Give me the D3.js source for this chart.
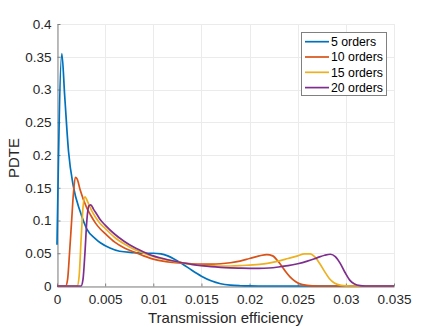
<!DOCTYPE html>
<html>
<head>
<meta charset="utf-8">
<script src="https://cdn.jsdelivr.net/npm/d3@7"></script>
<style>
  body { margin: 0; background: #fff; }
  svg { display: block; font-family: "Liberation Sans", Arial, sans-serif; }
</style>
</head>
<body>
<script>
// data
var xTicks = [0, 0.005, 0.01, 0.015, 0.02, 0.025, 0.03, 0.035];
var yTicks = [0, 0.05, 0.1, 0.15, 0.2, 0.25, 0.3, 0.35, 0.4];
var seriesNames = ['5 orders', '10 orders', '15 orders', '20 orders'];
var seriesColors = ['#0072BD', '#D95319', '#EDB120', '#7E2F8E'];

var x5 = [0, 0.0005, 0.0008, 0.0012, 0.0017, 0.0024, 0.0031, 0.004, 0.0045, 0.0055, 0.0065, 0.008, 0.009, 0.01, 0.0108, 0.0115, 0.0122, 0.013, 0.014, 0.015, 0.016, 0.017, 0.018, 0.019, 0.02, 0.022, 0.035];
var y5 = [0.063, 0.355, 0.29, 0.205, 0.152, 0.114, 0.087, 0.072, 0.066, 0.058, 0.053, 0.051, 0.05, 0.05, 0.049, 0.046, 0.041, 0.034, 0.024, 0.015, 0.008, 0.0035, 0.0013, 0.0004, 0.0001, 0, 0];

var x10 = [0, 0.0009, 0.0011, 0.0013, 0.0015, 0.0017, 0.0019, 0.0021, 0.0024, 0.0031, 0.0035, 0.004, 0.0045, 0.005, 0.006, 0.007, 0.008, 0.009, 0.01, 0.011, 0.012, 0.013, 0.014, 0.015, 0.016, 0.017, 0.018, 0.019, 0.02, 0.021, 0.0218, 0.0224, 0.023, 0.0236, 0.0242, 0.0248, 0.0255, 0.0265, 0.028, 0.035];
var y10 = [0, 0, 0.01, 0.05, 0.095, 0.14, 0.166, 0.163, 0.147, 0.119, 0.108, 0.096, 0.087, 0.08, 0.067, 0.058, 0.052, 0.046, 0.041, 0.038, 0.036, 0.035, 0.034, 0.0335, 0.0335, 0.034, 0.0355, 0.038, 0.042, 0.046, 0.048, 0.046, 0.037, 0.025, 0.014, 0.0065, 0.002, 0.0003, 0, 0];

var x15 = [0, 0.0021, 0.0023, 0.0025, 0.0027, 0.0029, 0.0032, 0.0036, 0.004, 0.0045, 0.005, 0.006, 0.007, 0.008, 0.009, 0.01, 0.011, 0.012, 0.013, 0.014, 0.015, 0.016, 0.017, 0.018, 0.019, 0.02, 0.021, 0.022, 0.023, 0.024, 0.025, 0.0257, 0.0263, 0.0268, 0.0273, 0.0278, 0.0283, 0.0288, 0.0295, 0.0305, 0.035];
var y15 = [0, 0, 0.015, 0.07, 0.12, 0.136, 0.128, 0.115, 0.105, 0.095, 0.088, 0.074, 0.064, 0.056, 0.05, 0.045, 0.041, 0.038, 0.0355, 0.033, 0.0315, 0.031, 0.0305, 0.0305, 0.031, 0.032, 0.033, 0.035, 0.038, 0.042, 0.046, 0.049, 0.049, 0.044, 0.034, 0.022, 0.011, 0.0045, 0.001, 0, 0];

var x20 = [0, 0.0025, 0.0027, 0.0029, 0.0031, 0.0033, 0.0035, 0.0038, 0.0042, 0.0045, 0.005, 0.006, 0.007, 0.008, 0.009, 0.01, 0.011, 0.012, 0.013, 0.014, 0.015, 0.016, 0.017, 0.018, 0.019, 0.02, 0.021, 0.022, 0.023, 0.024, 0.025, 0.026, 0.027, 0.0278, 0.0284, 0.0289, 0.0294, 0.0299, 0.0304, 0.0309, 0.0315, 0.032, 0.035];
var y20 = [0, 0, 0.01, 0.05, 0.1, 0.122, 0.124, 0.117, 0.108, 0.101, 0.093, 0.079, 0.068, 0.059, 0.052, 0.046, 0.042, 0.0385, 0.0355, 0.033, 0.031, 0.0295, 0.0285, 0.0278, 0.0273, 0.027, 0.027, 0.0275, 0.029, 0.031, 0.034, 0.038, 0.043, 0.047, 0.0485, 0.045, 0.035, 0.021, 0.009, 0.003, 0.0005, 0, 0];

var allX = [x5, x10, x15, x20];
var allY = [y5, y10, y15, y20];

var W = 436, H = 327;
var m = {left: 57, right: 394, top: 24, bottom: 286};
var axisColor = '#808080';
var textColor = '#262626';

var svg = d3.select('body').append('svg')
  .attr('width', W)
  .attr('height', H);

var xScale = d3.scaleLinear().domain([0, 0.035]).range([m.left, m.right]);
var yScale = d3.scaleLinear().domain([0, 0.4]).range([m.bottom, m.top]);

// grid
svg.append('g').selectAll('line.gx').data(xTicks).enter().append('line')
  .attr('x1', function(d) { return Math.round(xScale(d)) + 0.5; })
  .attr('x2', function(d) { return Math.round(xScale(d)) + 0.5; })
  .attr('y1', m.top).attr('y2', m.bottom)
  .attr('stroke', '#ebebeb').attr('stroke-width', 1);
svg.append('g').selectAll('line.gy').data(yTicks).enter().append('line')
  .attr('y1', function(d) { return Math.round(yScale(d)) + 0.5; })
  .attr('y2', function(d) { return Math.round(yScale(d)) + 0.5; })
  .attr('x1', m.left).attr('x2', m.right)
  .attr('stroke', '#ebebeb').attr('stroke-width', 1);

// axes (ticks inside, like matlab)
var fmt = function(d) { return d === 0 ? '0' : String(+d.toFixed(3)); };

var xAxis = svg.append('g')
  .attr('transform', 'translate(0,' + (m.bottom + 0.5) + ')')
  .call(d3.axisBottom(xScale).tickValues(xTicks).tickFormat(fmt).tickSizeInner(-3).tickSizeOuter(0).tickPadding(8));
var yAxis = svg.append('g')
  .attr('transform', 'translate(' + (m.left + 0.5) + ',0)')
  .call(d3.axisLeft(yScale).tickValues(yTicks).tickFormat(fmt).tickSizeInner(-3).tickSizeOuter(0).tickPadding(6));

[xAxis, yAxis].forEach(function(a) {
  a.select('.domain').attr('stroke', axisColor);
  a.selectAll('.tick line').attr('stroke', axisColor);
  a.selectAll('.tick text').attr('fill', textColor)
    .style('font-size', '13.5px')
    .style('font-family', '"Liberation Sans", Arial, sans-serif');
});

svg.append('text')
  .attr('x', (m.left + m.right) / 2)
  .attr('y', 323)
  .attr('text-anchor', 'middle')
  .attr('fill', textColor)
  .style('font-size', '15px')
  .text('Transmission efficiency');

svg.append('text')
  .attr('transform', 'translate(19,' + ((m.top + m.bottom) / 2 + 3) + ') rotate(-90)')
  .attr('text-anchor', 'middle')
  .attr('fill', textColor)
  .style('font-size', '15px')
  .text('PDTE');

// curves
var line = d3.line()
  .x(function(d) { return xScale(d[0]); })
  .y(function(d) { return yScale(d[1]); })
  .curve(d3.curveMonotoneX);

for (var i = 0; i < allX.length; i++) {
  var pts = allX[i].map(function(v, j) { return [v, allY[i][j]]; });
  svg.append('path')
    .datum(pts)
    .attr('d', line)
    .attr('fill', 'none')
    .attr('stroke', seriesColors[i])
    .attr('stroke-width', 1.7)
    .attr('stroke-linejoin', 'round');
}

// legend
var lg = svg.append('g');
lg.append('rect')
  .attr('x', 301.5).attr('y', 32.5)
  .attr('width', 85).attr('height', 63)
  .attr('fill', '#fff')
  .attr('stroke', axisColor);

var rows = lg.selectAll('g.row').data(seriesNames).enter().append('g')
  .attr('transform', function(d, i) { return 'translate(0,' + (41.7 + i * 15.3) + ')'; });
rows.append('line')
  .attr('x1', 305).attr('x2', 329)
  .attr('stroke', function(d, i) { return seriesColors[i]; })
  .attr('stroke-width', 1.7);
rows.append('text')
  .attr('x', 331).attr('dy', '0.35em')
  .attr('fill', '#000')
  .style('font-size', '12.3px')
  .text(function(d) { return d; });
</script>
</body>
</html>
